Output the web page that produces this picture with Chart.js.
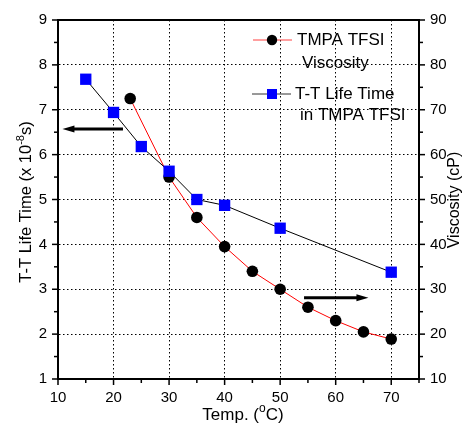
<!DOCTYPE html>
<html>
<head>
<meta charset="utf-8">
<script src="https://cdn.jsdelivr.net/npm/chart.js@4.4.1/dist/chart.umd.min.js"></script>
<style>
  body { margin: 0; background: #fff; }
  canvas { display: block; }
</style>
</head>
<body>
<canvas id="chart" width="462" height="425"></canvas>
<script>
// Data
const lifeTemps = [15, 20, 25, 30, 35, 40, 50, 70];
const lifeTimes = [7.68, 6.94, 6.18, 5.63, 5.0, 4.87, 4.36, 3.38];
const viscTemps = [23, 30, 35, 40, 45, 50, 55, 60, 65, 70];
const viscosity = [72.5, 55, 46, 39.5, 34, 30, 26, 23, 20.5, 18.9];

// Arrows pointing at the axis each series belongs to (data units, left axis)
const arrowLeft = [[21.7, 6.57], [10.8, 6.57]];
const arrowRight = [[54.3, 2.81], [65.9, 2.81]];

const FONT = "'Liberation Sans', Arial, sans-serif";

function toPoints(xs, ys) {
    return xs.map((x, i) => ({ x: x, y: ys[i] }));
}

// Dotted grid only on the major ticks inside the box
function gridColor(major, edges) {
    return function(ctx) {
        const v = ctx.tick ? ctx.tick.value : null;
        if (v === null) return 'rgba(0,0,0,0)';
        const isMajor = Math.abs(v / major - Math.round(v / major)) < 1e-6;
        if (!isMajor || edges.includes(v)) return 'rgba(0,0,0,0)';
        return '#000';
    };
}

function majorLabel(major) {
    return function(v) {
        return Math.abs(v / major - Math.round(v / major)) < 1e-6 ? Math.round(v) : '';
    };
}

// Draws box, tick marks, arrows, legend and axis titles
const decorPlugin = {
    id: 'decor',
    afterDraw(chart) {
        const ctx = chart.ctx;
        const area = chart.chartArea;
        const sx = chart.scales.x, sy = chart.scales.y, sy2 = chart.scales.y2;
        ctx.save();

        // top border of the frame
        ctx.strokeStyle = '#000';
        ctx.lineWidth = 2;
        ctx.beginPath();
        ctx.moveTo(area.left - 1, area.top);
        ctx.lineTo(area.right + 1, area.top);
        ctx.stroke();

        // tick marks, major longer than minor
        ctx.lineWidth = 1.5;
        sx.ticks.forEach(t => {
            const px = sx.getPixelForValue(t.value);
            const len = t.value % 10 === 0 ? 6 : 4;
            ctx.beginPath();
            ctx.moveTo(px, area.bottom);
            ctx.lineTo(px, area.bottom + len);
            ctx.stroke();
        });
        sy.ticks.forEach(t => {
            const py = sy.getPixelForValue(t.value);
            const len = Number.isInteger(t.value) ? 6 : 4;
            ctx.beginPath();
            ctx.moveTo(area.left, py);
            ctx.lineTo(area.left - len, py);
            ctx.stroke();
        });
        sy2.ticks.forEach(t => {
            const py = sy2.getPixelForValue(t.value);
            const len = t.value % 10 === 0 ? 6 : 4;
            ctx.beginPath();
            ctx.moveTo(area.right, py);
            ctx.lineTo(area.right + len, py);
            ctx.stroke();
        });

        // arrows
        function arrow(pts) {
            const x1 = sx.getPixelForValue(pts[0][0]), y1 = sy.getPixelForValue(pts[0][1]);
            const x2 = sx.getPixelForValue(pts[1][0]), y2 = sy.getPixelForValue(pts[1][1]);
            const dir = Math.sign(x2 - x1);
            ctx.strokeStyle = '#000';
            ctx.fillStyle = '#000';
            ctx.lineWidth = 3;
            ctx.beginPath();
            ctx.moveTo(x1, y1);
            ctx.lineTo(x2 - dir * 8, y2);
            ctx.stroke();
            ctx.beginPath();
            ctx.moveTo(x2, y2);
            ctx.lineTo(x2 - dir * 12, y2 - 3.5);
            ctx.lineTo(x2 - dir * 12, y2 + 3.5);
            ctx.closePath();
            ctx.fill();
        }
        arrow(arrowLeft);
        arrow(arrowRight);

        // legend
        ctx.font = '17px ' + FONT;
        ctx.textBaseline = 'middle';
        ctx.textAlign = 'left';
        ctx.fillStyle = '#000';
        ctx.strokeStyle = '#ff4040';
        ctx.lineWidth = 1;
        ctx.beginPath();
        ctx.moveTo(253, 40);
        ctx.lineTo(292, 40);
        ctx.stroke();
        ctx.beginPath();
        ctx.arc(272, 40, 5.2, 0, Math.PI * 2);
        ctx.fill();
        ctx.fillText('TMPA TFSI', 297, 40);
        ctx.fillText('Viscosity', 302, 63);

        ctx.strokeStyle = '#333';
        ctx.beginPath();
        ctx.moveTo(252, 94);
        ctx.lineTo(291, 94);
        ctx.stroke();
        ctx.fillStyle = '#0000ff';
        ctx.fillRect(267, 89, 10, 10);
        ctx.fillStyle = '#000';
        ctx.fillText('T-T Life Time', 295, 94);
        ctx.fillText('in TMPA TFSI', 300, 115);

        // axis titles with superscripts, drawn on an alphabetic baseline
        function drawParts(parts, cx, cy, rot, size) {
            const supSize = Math.round(size * 0.68);
            ctx.save();
            ctx.translate(cx, cy);
            ctx.rotate(rot);
            let total = 0;
            parts.forEach(p => {
                ctx.font = (p.sup ? supSize : size) + 'px ' + FONT;
                total += ctx.measureText(p.t).width;
            });
            let x = -total / 2;
            ctx.textAlign = 'left';
            ctx.textBaseline = 'alphabetic';
            parts.forEach(p => {
                ctx.font = (p.sup ? supSize : size) + 'px ' + FONT;
                ctx.fillText(p.t, x, p.sup ? -size * 0.45 : 0);
                x += ctx.measureText(p.t).width;
            });
            ctx.restore();
        }
        ctx.fillStyle = '#000';
        drawParts([{ t: 'T-T Life Time (x 10' }, { t: '-8', sup: true }, { t: 's)' }],
            31, 202, -Math.PI / 2, 16.5);
        drawParts([{ t: 'Viscosity (cP)' }], 459, 200, -Math.PI / 2, 16);
        drawParts([{ t: 'Temp. (' }, { t: 'o', sup: true }, { t: 'C)' }],
            243, 420, 0, 17);

        ctx.restore();
    }
};

const tickFont = { family: FONT, size: 15 };

new Chart(document.getElementById('chart'), {
    type: 'line',
    data: {
        datasets: [
            {
                label: 'T-T Life Time in TMPA TFSI',
                data: toPoints(lifeTemps, lifeTimes),
                yAxisID: 'y',
                borderColor: '#000',
                borderWidth: 1,
                pointStyle: 'rect',
                pointRadius: 8,
                pointBackgroundColor: '#0000ff',
                pointBorderColor: '#0000ff',
                pointBorderWidth: 0,
                order: 0
            },
            {
                label: 'TMPA TFSI Viscosity',
                data: toPoints(viscTemps, viscosity),
                yAxisID: 'y2',
                borderColor: '#ff0000',
                borderWidth: 1,
                pointStyle: 'circle',
                pointRadius: 5.8,
                pointBackgroundColor: '#000',
                pointBorderColor: '#000',
                pointBorderWidth: 0,
                order: 1
            }
        ]
    },
    options: {
        responsive: false,
        animation: false,
        layout: { padding: { top: 18, left: 0, right: 0, bottom: 0 } },
        plugins: {
            legend: { display: false },
            tooltip: { enabled: false }
        },
        scales: {
            x: {
                type: 'linear',
                min: 10,
                max: 75,
                afterFit: s => { s.height = 46; },
                ticks: {
                    stepSize: 5,
                    autoSkip: false,
                    maxRotation: 0,
                    padding: 10,
                    color: '#000',
                    font: tickFont,
                    callback: majorLabel(10)
                },
                grid: { color: gridColor(10, [10, 75]), lineWidth: 1, drawTicks: false },
                border: { display: true, color: '#000', width: 2, dash: [1.5, 2.5] }
            },
            y: {
                type: 'linear',
                position: 'left',
                min: 1,
                max: 9,
                afterFit: s => { s.width = 58; },
                ticks: {
                    stepSize: 0.5,
                    autoSkip: false,
                    padding: 11,
                    color: '#000',
                    font: tickFont,
                    callback: majorLabel(1)
                },
                grid: { color: gridColor(1, [1, 9]), lineWidth: 1, drawTicks: false },
                border: { display: true, color: '#000', width: 2, dash: [1.5, 2.5] }
            },
            y2: {
                type: 'linear',
                position: 'right',
                min: 10,
                max: 90,
                afterFit: s => { s.width = 43; },
                ticks: {
                    stepSize: 5,
                    autoSkip: false,
                    padding: 11,
                    color: '#000',
                    font: tickFont,
                    callback: majorLabel(10)
                },
                grid: { drawOnChartArea: false, drawTicks: false },
                border: { display: true, color: '#000', width: 2 }
            }
        }
    },
    plugins: [decorPlugin]
});
</script>
</body>
</html>
